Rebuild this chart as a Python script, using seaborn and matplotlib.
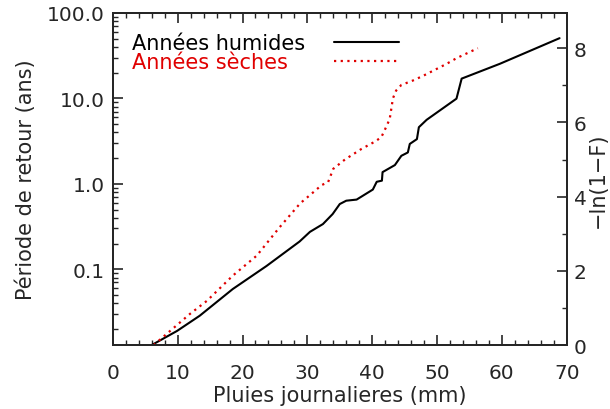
import matplotlib
matplotlib.use('Agg')
import matplotlib.pyplot as plt
import numpy as np
import pandas as pd
import seaborn as sns
from matplotlib.ticker import FixedLocator, MultipleLocator, LogLocator, FuncFormatter, NullFormatter

# Données (axe de droite : -ln(1-F))
pluie_humides = [6.0, 9.9, 13.4, 18.5, 23.7, 28.8, 30.4, 32.4, 33.9, 35.0, 36.0, 37.6,
                 40.1, 40.7, 41.5, 41.6, 43.5, 44.5, 45.5, 45.8, 46.9, 47.2, 48.4,
                 53.0, 53.8, 59.7, 68.9]
lnf_humides = [0.0, 0.38, 0.79, 1.51, 2.13, 2.79, 3.05, 3.26, 3.53, 3.80, 3.89, 3.92,
               4.19, 4.40, 4.43, 4.66, 4.85, 5.10, 5.19, 5.42, 5.55, 5.87, 6.07,
               6.64, 7.18, 7.58, 8.27]

pluie_seches = [6.3, 8.3, 11.9, 14.5, 18.5, 22.2, 25.7, 28.9, 30.6, 32.2, 33.2, 34.0,
                35.8, 38.3, 40.4, 41.4, 41.9, 42.7, 43.2, 43.7, 44.5, 46.3, 47.8,
                51.5, 53.0, 56.3]
lnf_seches = [0.0, 0.3, 0.84, 1.19, 1.87, 2.41, 3.17, 3.82, 4.07, 4.31, 4.39, 4.75,
              5.0, 5.28, 5.48, 5.60, 5.78, 6.09, 6.65, 6.86, 7.01, 7.13, 7.25,
              7.58, 7.73, 8.0]

labels = ['Années humides', 'Années sèches']
couleurs = ['black', '#e00000']

sns.set_style('ticks')
plt.rcParams['font.family'] = ['DejaVu Sans']

df = pd.concat([
    pd.DataFrame({'pluie': pluie_humides, 'lnf': lnf_humides, 'type': labels[0]}),
    pd.DataFrame({'pluie': pluie_seches, 'lnf': lnf_seches, 'type': labels[1]}),
])

fig, ax = plt.subplots(figsize=(6.1, 4.1), dpi=100)
fig.subplots_adjust(left=0.185, right=0.929, top=0.966, bottom=0.156)

ymax_r = 8.95
ax.set_yscale('log')
ax.set_ylim(100 * np.exp(-ymax_r), 100)
ax.set_xlim(0, 70)

ax2 = ax.twinx()
for lab, col, ls, lw in zip(labels, couleurs, ['-', (0, (1, 2))], [1.5, 1.6]):
    d = df[df['type'] == lab]
    sns.lineplot(data=d, x='pluie', y='lnf', ax=ax2, color=col, linestyle=ls,
                 linewidth=lw, label=lab, sort=False, estimator=None)
ax2.set_ylim(0, ymax_r)
ax2.set_xlim(0, 70)

# axes et graduations
ax.xaxis.set_major_locator(MultipleLocator(10))
ax.xaxis.set_minor_locator(MultipleLocator(2))
ax.yaxis.set_major_locator(FixedLocator([0.1, 1, 10, 100]))
ax.yaxis.set_minor_locator(LogLocator(subs=np.arange(2, 10)))
ax.yaxis.set_major_formatter(FuncFormatter(lambda v, p: '%.1f' % v))
ax.yaxis.set_minor_formatter(NullFormatter())
ax.tick_params(axis='both', which='major', direction='in', length=7, width=1.2,
               top=True, right=False, labelsize=14.5)
ax.tick_params(axis='x', which='major', pad=13)
ax.tick_params(axis='y', which='major', pad=6)
ax.tick_params(axis='both', which='minor', direction='in', length=3.5, width=1.0,
               top=True, right=False)

ax2.yaxis.set_major_locator(MultipleLocator(2))
ax2.yaxis.set_minor_locator(MultipleLocator(1))
ax2.tick_params(axis='y', which='major', direction='in', length=7, width=1.2,
                labelsize=14.5, pad=5)
ax2.tick_params(axis='y', which='minor', direction='in', length=3.5, width=1.0)

for a in (ax, ax2):
    for s in a.spines.values():
        s.set_linewidth(1.4)

ax.set_xlabel('Pluies journalieres (mm)', fontsize=15, labelpad=2)
ax.set_ylabel('Période de retour (ans)', fontsize=15, labelpad=8)
ax2.set_ylabel('\u2212ln(1\u2212F)', fontsize=15, labelpad=1)

leg = ax2.legend(loc='upper left', bbox_to_anchor=(0.042, 0.94), frameon=False,
                 markerfirst=False, handlelength=3.1, handletextpad=1.4,
                 labelspacing=-0.05, borderpad=0, borderaxespad=0,
                 labelcolor='linecolor', fontsize=15)

# textes de la légende alignés à gauche, échantillons alignés à droite
fig.canvas.draw()
r = fig.canvas.get_renderer()
widths = [t.get_window_extent(r).width for t in leg.get_texts()]
rows = leg._legend_handle_box.get_children()[0].get_children()
for row, w in zip(rows, widths):
    row.sep = 1.4 * 15 + (max(widths) - w) * 72 / fig.dpi

fig.savefig('out.png', dpi=100)
